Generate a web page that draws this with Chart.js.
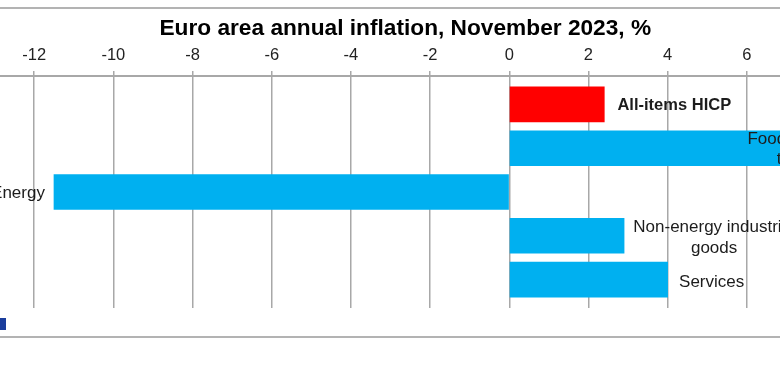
<!DOCTYPE html>
<html>
<head>
<meta charset="utf-8">
<script src="https://cdn.jsdelivr.net/npm/chart.js@4"></script>
<style>
  html, body { margin: 0; padding: 0; background: #fff; }
  #wrap { position: relative; width: 780px; height: 366px; overflow: hidden; background: #fff; }
  #myChart { position: absolute; left: -45px; top: 0; }
  .rule { position: absolute; left: 0; width: 780px; height: 2px; background: #b3b3b3; }
  #logo { position: absolute; left: 0; top: 318px; width: 6px; height: 12px; background: #1a3d9c; }
</style>
</head>
<body>
<div id="wrap">
  <div class="rule" style="top:7px"></div>
  <div class="rule" style="top:336px"></div>
  <div id="logo"></div>
  <canvas id="myChart" width="871" height="366"></canvas>
</div>
<script>
const chartTitle = "Euro area annual inflation, November 2023, %";
const categories = ["All-items HICP", "Food, alcohol &\ntobacco", "Energy", "Non-energy industrial\ngoods", "Services"];
const inflation = [2.4, 6.9, -11.5, 2.9, 4.0];

const fontName = "'Liberation Sans', Arial, sans-serif";

//labels sit next to the bars, offset in px from the end of each bar
const labelOffset = [70, 24, -36, 90, 44];
const labelNudge = [1, 1, 1, 2, 3];

const barLabels = {
  id: "barLabels",
  afterDatasetsDraw(chart) {
    const ctx = chart.ctx;
    const xScale = chart.scales.x;
    const yScale = chart.scales.y;
    ctx.save();
    ctx.fillStyle = "#1c1c1c";
    ctx.textAlign = "center";
    ctx.textBaseline = "middle";
    categories.forEach((name, i) => {
      const lines = name.split("\n");
      const x = xScale.getPixelForValue(inflation[i]) + labelOffset[i];
      const y = yScale.getPixelForValue(i) + labelNudge[i];
      ctx.font = (i === 0 ? "bold 16.5px " : "17px ") + fontName;
      lines.forEach((line, n) => {
        ctx.fillText(line, x, y + (n - (lines.length - 1) / 2) * 20.5);
      });
    });
    //title is centred on the visible crop, not on the canvas
    ctx.fillStyle = "#000";
    ctx.font = "bold 22.7px " + fontName;
    ctx.fillText(chartTitle, xScale.getPixelForValue(0) - 104, 29);
    ctx.restore();
  }
};

new Chart("myChart", {
  type: "bar",
  data: {
    datasets: [{
      label: "Annual inflation",
      data: inflation.map((v, i) => ({ x: v, y: i })),
      backgroundColor: (c) => (c.dataIndex === 0 ? "#ff0000" : "#00b0f0"),
      barThickness: 35
    }]
  },
  options: {
    indexAxis: "y",
    responsive: false,
    animation: false,
    layout: { padding: { top: 0, bottom: 58, left: 0, right: 0 } },
    plugins: { legend: { display: false }, title: { display: false }, tooltip: { enabled: false } },
    scales: {
      x: {
        type: "linear",
        position: "top",
        min: -14,
        max: 8,
        afterFit: (scale) => {
          scale.height = 76;
          scale.paddingLeft = 0;
          scale.paddingRight = 0;
        },
        grid: { color: "#a8a8a8", lineWidth: 1.5, tickLength: 5 },
        border: { color: "#a8a8a8", width: 2 },
        ticks: {
          stepSize: 2,
          padding: 6,
          maxRotation: 0,
          color: "#222",
          font: { family: fontName, size: 16.5 },
          callback: (v) => (v === -14 || v === 8 ? "" : v)
        }
      },
      y: {
        type: "linear",
        display: false,
        offset: false,
        reverse: true,
        min: -0.65,
        max: 4.65
      }
    }
  },
  plugins: [barLabels]
});
</script>
</body>
</html>
